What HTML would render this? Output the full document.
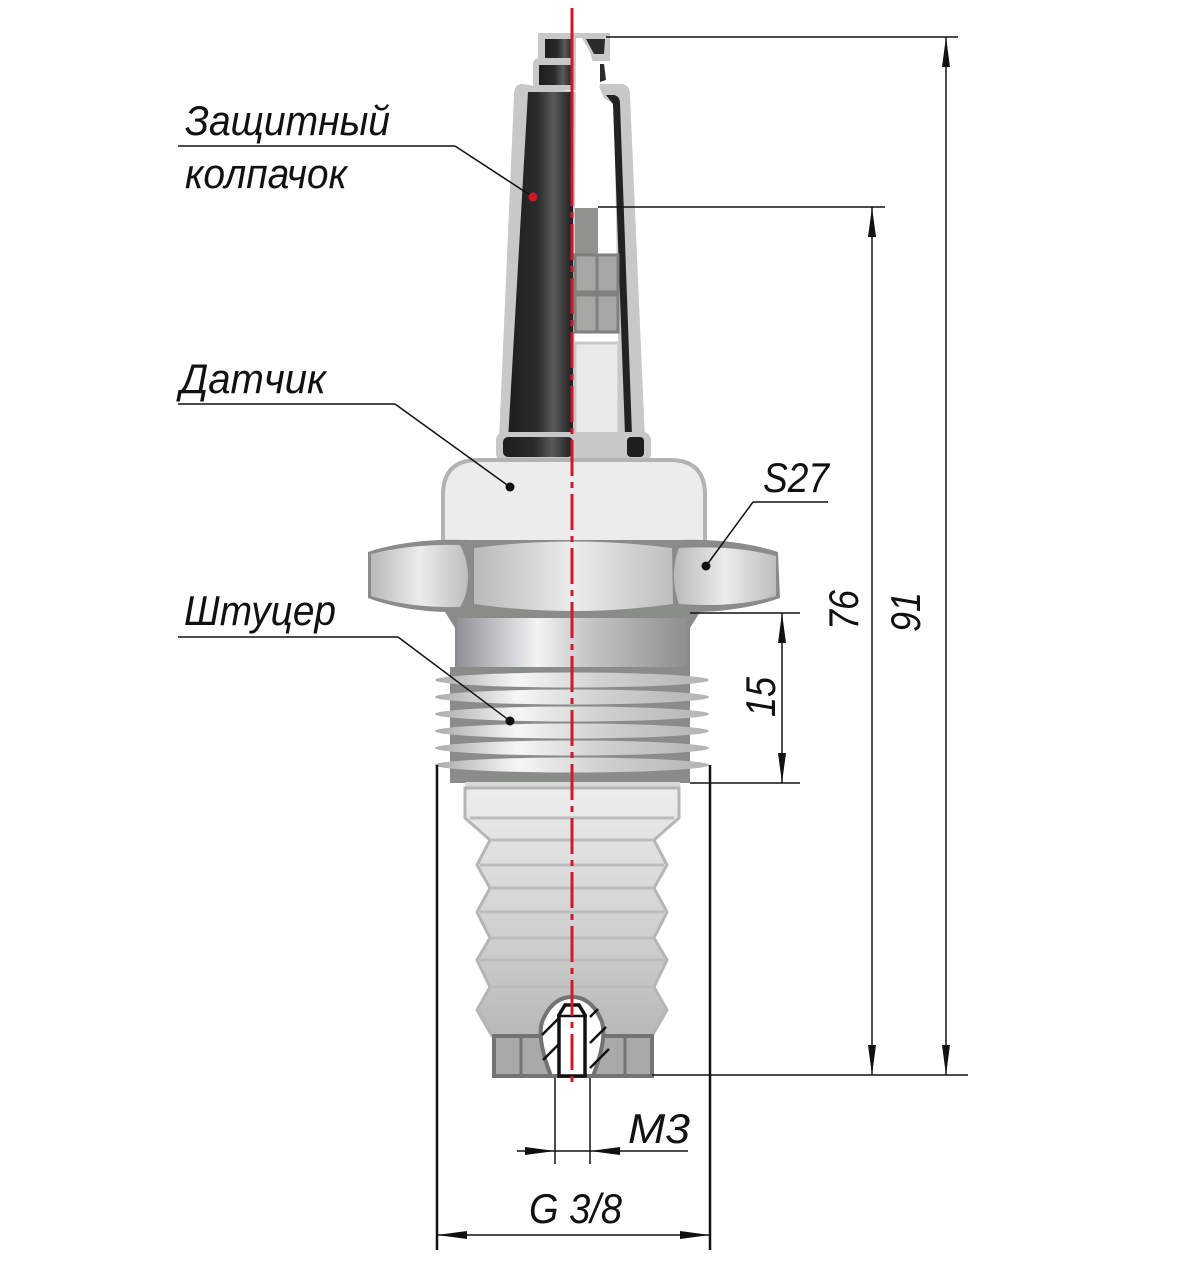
<!DOCTYPE html>
<html><head><meta charset="utf-8"><style>
html,body{margin:0;padding:0;background:#fff;}
svg{display:block;}
text{font-family:"Liberation Sans",sans-serif;font-style:italic;fill:#111;}
</style></head><body>
<svg width="1200" height="1277" viewBox="0 0 1200 1277" xmlns="http://www.w3.org/2000/svg">
<defs>
<linearGradient id="blk" x1="0" x2="1" y1="0" y2="0">
<stop offset="0" stop-color="#1e1e1e"/><stop offset="0.45" stop-color="#2a2a2a"/><stop offset="0.7" stop-color="#5a5a5a"/><stop offset="1" stop-color="#1e1e1e"/></linearGradient>
<linearGradient id="met" x1="0" x2="1" y1="0" y2="0">
<stop offset="0" stop-color="#8e9196"/><stop offset="0.35" stop-color="#f4f4f4"/><stop offset="0.55" stop-color="#c8c8c8"/><stop offset="1" stop-color="#8e8f8e"/></linearGradient>
<linearGradient id="crest" x1="0" x2="1" y1="0" y2="0">
<stop offset="0" stop-color="#a9aca9"/><stop offset="0.3" stop-color="#f6f6f6"/><stop offset="0.6" stop-color="#d0d2d0"/><stop offset="1" stop-color="#b3b5b3"/></linearGradient>
<linearGradient id="nut" x1="0" x2="1" y1="0" y2="0">
<stop offset="0" stop-color="#b8b9b8"/><stop offset="0.5" stop-color="#ececec"/><stop offset="1" stop-color="#bdbebd"/></linearGradient>
<linearGradient id="bel" x1="0" x2="0" y1="0" y2="1">
<stop offset="0" stop-color="#ededed"/><stop offset="0.6" stop-color="#cfcfcf"/><stop offset="1" stop-color="#b8b8b8"/></linearGradient>
</defs>

<!-- cap -->
<g>
<rect x="538" y="33" width="72" height="28" fill="#c8c8c8"/>
<rect x="545" y="39" width="28" height="19" fill="url(#blk)"/>
<rect x="533" y="58" width="52" height="32" rx="6" fill="#c8c8c8"/>
<rect x="539" y="65" width="34" height="20" fill="url(#blk)"/>
<path d="M522,84 Q514,84 514,95 L499,440 L645,440 L630,95 Q630,84 620,84 L600,84 L598,95 Z" fill="#c8c8c8"/>
<path d="M528,92 L573,92 L573,440 L508,440 Z" fill="url(#blk)"/>
<path d="M576,38 L582,38 L590,52 L594,66 L596,80 L604,98 L614,104 L620,440 L574,440 Z" fill="#fff"/>
<path d="M586,39 L605,39 L604,54 L594,54 Z" fill="#2a2a2a"/>
<path d="M600,64 L604,64 L606,80 L600,82 Z" fill="#2a2a2a"/>
<path d="M606,95 L614,95 Q620,96 620,104 L632,435 L625,435 L613,104 Z" fill="#222"/>
<!-- inner parts -->
<rect x="575" y="208" width="23" height="46" fill="#8f9390"/>
<rect x="575" y="255" width="43" height="37" fill="#a5a7a5" stroke="#7e807e" stroke-width="3"/>
<line x1="597" y1="255" x2="597" y2="292" stroke="#7e807e" stroke-width="3"/>
<rect x="575" y="295" width="43" height="37" fill="#a5a7a5" stroke="#7e807e" stroke-width="3"/>
<line x1="597" y1="295" x2="597" y2="332" stroke="#7e807e" stroke-width="3"/>
<rect x="575" y="343" width="44" height="115" fill="#e9e9e9" stroke="#c8c8c8" stroke-width="3"/>
<!-- flange -->
<rect x="496" y="432" width="155" height="30" rx="8" fill="#c8c8c8"/>
<rect x="503" y="437" width="70" height="20" rx="5" fill="url(#blk)"/>
<rect x="627" y="437" width="17" height="20" rx="4" fill="#1e1e1e"/>
</g>

<!-- sensor housing -->
<path d="M443,545 L443,495 Q443,460 478,460 L670,460 Q705,460 705,495 L705,545 Z" fill="#ececec" stroke="#b3b3b3" stroke-width="4"/>

<!-- nut -->
<path d="M368,552 Q410,538 470,540 L675,540 Q735,538 778,552 L780,598 Q735,614 675,612 L470,612 Q410,614 368,598 Z" fill="#8a8c8a"/>
<path d="M371,554 Q410,544 460,545 Q468,560 468,576 Q468,594 460,607 Q410,608 371,596 Z" fill="url(#nut)"/>
<path d="M474,548 Q572,535 672,548 L673,604 Q572,618 474,604 Z" fill="url(#nut)"/>
<path d="M679,548 Q735,545 776,556 L776,596 Q735,608 679,604 Q674,590 674,576 Q674,560 679,548 Z" fill="url(#nut)"/>

<!-- neck -->
<path d="M445,612 L700,612 L690,628 L690,670 L455,670 L455,628 Z" fill="#8a8c8a"/>
<rect x="457" y="618" width="230" height="50" fill="url(#met)"/>
<!-- thread -->
<rect x="450" y="667" width="240" height="116" fill="#8a8c8a"/>
<g fill="url(#crest)">
<ellipse cx="572" cy="680" rx="137" ry="7.5"/>
<ellipse cx="572" cy="697" rx="137" ry="7.5"/>
<ellipse cx="572" cy="714" rx="137" ry="7.5"/>
<ellipse cx="572" cy="731" rx="137" ry="7.5"/>
<ellipse cx="572" cy="748" rx="137" ry="7.5"/>
<ellipse cx="572" cy="765" rx="137" ry="7.5"/>
</g>
<rect x="465" y="782" width="215" height="6" fill="#d8d8d8"/>

<!-- bellows -->
<path d="M465,788 L465,818 L490,840 L477,865 L490,888 L477,912 L490,938 L477,960 L490,987 L477,1010 L492,1036 L652,1036 L667,1010 L654,987 L667,960 L654,938 L667,912 L654,888 L667,865 L654,840 L679,818 L679,788 Z" fill="url(#bel)" stroke="#b5b5b5" stroke-width="3"/>
<g stroke="#bcbcbc" stroke-width="3">
<line x1="470" y1="818" x2="674" y2="818"/><line x1="490" y1="840" x2="654" y2="840"/>
<line x1="480" y1="865" x2="664" y2="865"/><line x1="490" y1="888" x2="654" y2="888"/>
<line x1="480" y1="912" x2="664" y2="912"/><line x1="490" y1="938" x2="654" y2="938"/>
<line x1="480" y1="960" x2="664" y2="960"/><line x1="490" y1="987" x2="654" y2="987"/>
<line x1="480" y1="1010" x2="664" y2="1010"/>
</g>
<!-- bottom block -->
<rect x="494" y="1036" width="158" height="40" fill="#a9a9a9" stroke="#737373" stroke-width="4"/>
<line x1="521" y1="1036" x2="521" y2="1076" stroke="#737373" stroke-width="3"/>
<line x1="625" y1="1036" x2="625" y2="1076" stroke="#737373" stroke-width="3"/>
<path d="M551,1076 Q537,1040 542,1022 Q552,997 572,997 Q592,997 602,1022 Q607,1040 593,1076 Z" fill="#fff" stroke="#737373" stroke-width="4"/>
<g stroke="#111" stroke-width="2.5">
<line x1="542" y1="1035" x2="560" y2="1017"/><line x1="543" y1="1060" x2="560" y2="1043"/>
<line x1="590" y1="1017" x2="598" y2="1009"/><line x1="590" y1="1043" x2="606" y2="1027"/><line x1="590" y1="1068" x2="609" y2="1049"/>
</g>
<path d="M559,1076 L559,1015 L565,1005 L579,1005 L585,1015 L585,1076 Z" fill="#fff" stroke="#111" stroke-width="3.5"/>
<line x1="557" y1="1016" x2="587" y2="1016" stroke="#111" stroke-width="2.5"/>

<!-- centerline -->
<line x1="572" y1="8" x2="572" y2="170" stroke="#d4172b" stroke-width="3"/>
<line x1="572" y1="170" x2="572" y2="1082" stroke="#d4172b" stroke-width="3" stroke-dasharray="36,6,6,6"/>

<!-- dimensions -->
<g stroke="#111" stroke-width="1.5" fill="none">
<line x1="606" y1="37" x2="958" y2="37"/>
<line x1="598" y1="207" x2="885" y2="207"/>
<line x1="652" y1="1075" x2="968" y2="1075"/>
<line x1="946" y1="37" x2="946" y2="1075"/>
<line x1="872" y1="207" x2="872" y2="1075"/>
<line x1="690" y1="613" x2="800" y2="613"/>
<line x1="690" y1="783" x2="800" y2="783"/>
<line x1="782" y1="613" x2="782" y2="783"/>
<line x1="437" y1="765" x2="437" y2="1250" stroke-width="2.5"/>
<line x1="710" y1="765" x2="710" y2="1250" stroke-width="2.5"/>
<line x1="437" y1="1235" x2="710" y2="1235"/>
<line x1="555" y1="1078" x2="555" y2="1164"/>
<line x1="590" y1="1078" x2="590" y2="1164"/>
<line x1="517" y1="1151" x2="688" y2="1151"/>
<line x1="178" y1="146" x2="455" y2="146"/><line x1="455" y1="146" x2="533" y2="197"/>
<line x1="178" y1="404" x2="395" y2="404"/><line x1="395" y1="404" x2="510" y2="487"/>
<line x1="178" y1="637" x2="398" y2="637"/><line x1="398" y1="637" x2="510" y2="721"/>
<line x1="828" y1="502" x2="753" y2="502"/><line x1="753" y1="502" x2="706" y2="566"/>
</g>
<g fill="#111">
<path d="M946,37 l-4,30 l8,0 Z"/><path d="M946,1075 l-4,-30 l8,0 Z"/>
<path d="M872,207 l-4,30 l8,0 Z"/><path d="M872,1075 l-4,-30 l8,0 Z"/>
<path d="M782,613 l-4,30 l8,0 Z"/><path d="M782,783 l-4,-30 l8,0 Z"/>
<path d="M437,1235 l30,-4 l0,8 Z"/><path d="M710,1235 l-30,-4 l0,8 Z"/>
<path d="M555,1151 l-30,-4 l0,8 Z"/><path d="M590,1151 l30,-4 l0,8 Z"/>
<circle cx="510" cy="487" r="4.5"/><circle cx="510" cy="721" r="4.5"/><circle cx="706" cy="566" r="4.5"/>
</g>
<circle cx="533" cy="197" r="4.5" fill="#d4172b"/>

<!-- labels -->
<g font-size="42">
<text x="185" y="135" textLength="205" lengthAdjust="spacingAndGlyphs">Защитный</text>
<text x="185" y="188" textLength="162" lengthAdjust="spacingAndGlyphs">колпачок</text>
<text x="180" y="393" textLength="146" lengthAdjust="spacingAndGlyphs">Датчик</text>
<text x="184" y="625" textLength="152" lengthAdjust="spacingAndGlyphs">Штуцер</text>
<text x="763" y="492" textLength="66" lengthAdjust="spacingAndGlyphs">S27</text>
<text x="628" y="1143" textLength="62" lengthAdjust="spacingAndGlyphs">M3</text>
<text x="529" y="1223" textLength="93" lengthAdjust="spacingAndGlyphs">G 3/8</text>
<text transform="translate(858,630) rotate(-90)" textLength="40" lengthAdjust="spacingAndGlyphs">76</text>
<text transform="translate(920,632) rotate(-90)" textLength="40" lengthAdjust="spacingAndGlyphs">91</text>
<text transform="translate(775,717) rotate(-90)" textLength="40" lengthAdjust="spacingAndGlyphs">15</text>
</g>
</svg>
</body></html>
